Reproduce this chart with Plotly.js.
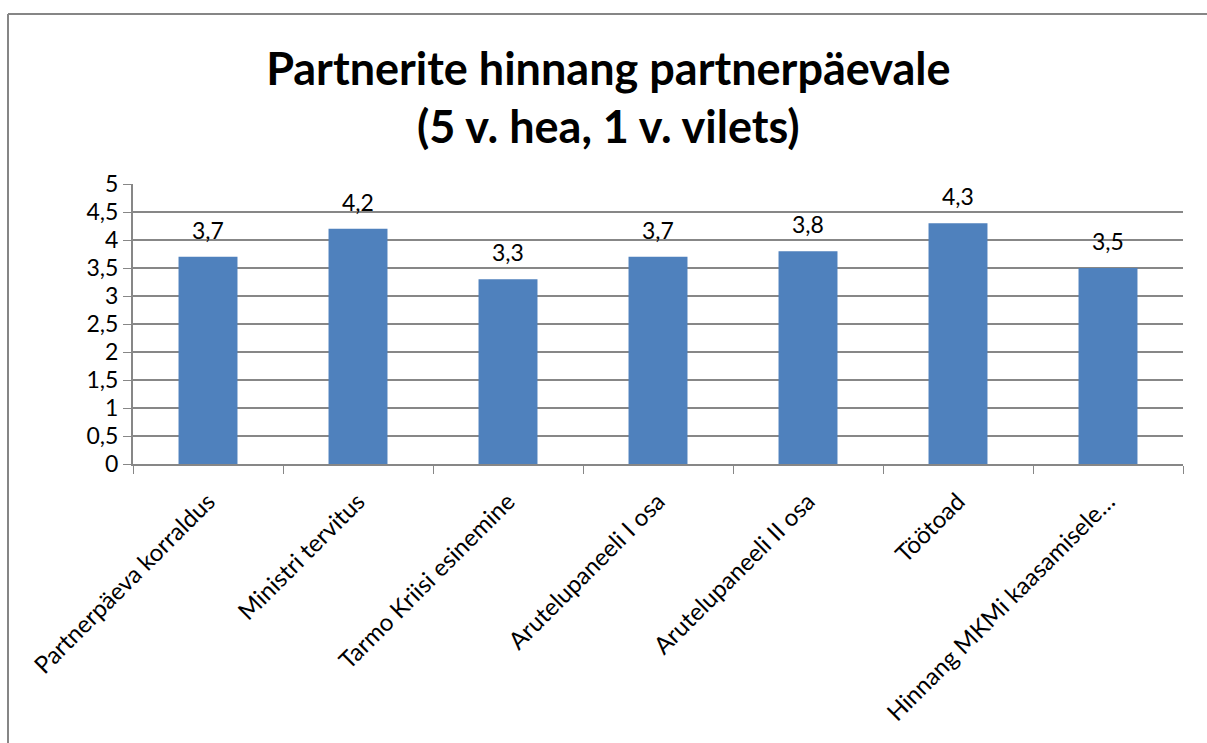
<!DOCTYPE html>
<html>
<head>
<meta charset="utf-8">
<script src="https://cdn.plot.ly/plotly-3.0.1.min.js"></script>
<style>
  html, body { margin: 0; padding: 0; background: #fff; }
  #chart { width: 1207px; height: 743px; }
</style>
</head>
<body>
<div id="chart"></div>
<script>
  // Kategooriad ja hinnangud
  const categories = [
    'Partnerpäeva korraldus',
    'Ministri tervitus',
    'Tarmo Kriisi esinemine',
    'Arutelupaneeli I osa',
    'Arutelupaneeli II osa',
    'Töötoad',
    'Hinnang MKMi kaasamisele…'
  ];
  const scores = [3.7, 4.2, 3.3, 3.7, 3.8, 4.3, 3.5];
  const yTicks = [0, 0.5, 1, 1.5, 2, 2.5, 3, 3.5, 4, 4.5, 5];

  const FONT = 'Lato, "Open Sans", "Liberation Sans", sans-serif';
  const GRID = '#878787';
  const fmt = v => String(v).replace('.', ',');

  // raam ümber diagrammi (paper-koordinaatides)
  const L = 133, R = 1183, T = 184, B = 464;
  const px = x => (x - L) / (R - L);
  const py = y => (B - y) / (B - T);

  // väärtuste sildid tulpade kohal
  const labels = categories.map((c, i) => ({
    x: c, y: scores[i], xref: 'x', yref: 'y',
    text: fmt(scores[i]), showarrow: false,
    yanchor: 'bottom', yshift: 11,
    font: { family: FONT, size: 23, color: '#000' }
  }));

  Plotly.newPlot('chart', [{
    type: 'bar',
    x: categories,
    y: scores,
    marker: { color: '#4f81bd' },
    hoverinfo: 'x+y'
  }], {
    width: 1207,
    height: 743,
    separators: ',.',
    font: { family: FONT, color: '#000' },
    title: {
      text: '<b>Partnerite hinnang partnerpäevale<br>(5 v. hea, 1 v. vilets)</b>',
      font: { family: FONT, size: 45, color: '#000' },
      x: 0.504, xanchor: 'center',
      y: 0.886, yanchor: 'middle'
    },
    margin: { l: L, r: 1207 - R, t: T, b: 743 - B, pad: 0 },
    bargap: 0.607,
    showlegend: false,
    paper_bgcolor: '#fff',
    plot_bgcolor: '#fff',
    annotations: labels,
    xaxis: {
      type: 'category',
      tickangle: -45,
      ticks: 'outside',
      ticklen: 8,
      tickcolor: GRID,
      tickson: 'boundaries',
      ticklabelstandoff: 12,
      showline: true,
      linecolor: GRID,
      linewidth: 2,
      showgrid: false,
      tickfont: { family: FONT, size: 24, color: '#000' },
      fixedrange: true
    },
    yaxis: {
      range: [0, 5],
      tickvals: yTicks,
      ticks: 'outside',
      ticklen: 8,
      tickcolor: GRID,
      showline: true,
      linecolor: GRID,
      linewidth: 2,
      showgrid: true,
      gridcolor: GRID,
      gridwidth: 1.5,
      zeroline: false,
      tickfont: { family: FONT, size: 23, color: '#000' },
      fixedrange: true
    },
    shapes: [
      { type: 'line', xref: 'paper', yref: 'paper',
        x0: px(8), x1: px(8), y0: py(14), y1: py(760),
        line: { color: '#868686', width: 2 } },
      { type: 'line', xref: 'paper', yref: 'paper',
        x0: px(8), x1: px(1220), y0: py(14), y1: py(14),
        line: { color: '#868686', width: 2 } }
    ]
  }, { displayModeBar: false, staticPlot: true });
</script>
</body>
</html>
